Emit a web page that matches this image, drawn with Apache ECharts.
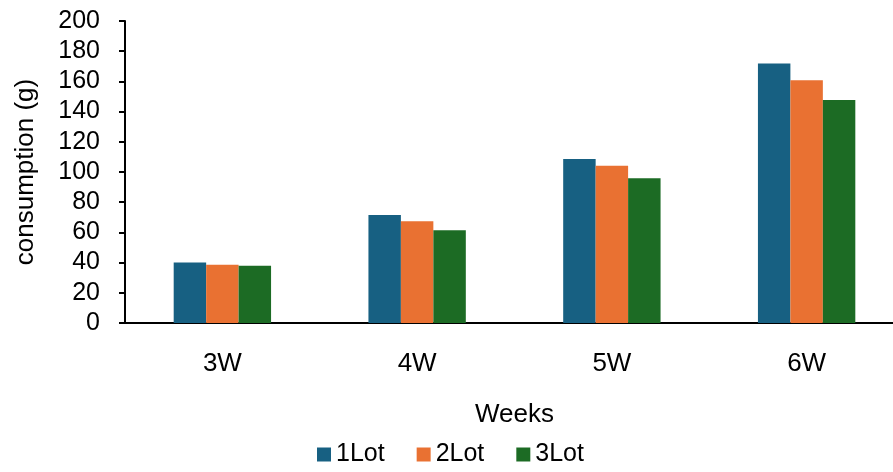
<!DOCTYPE html>
<html>
<head>
<meta charset="utf-8">
<script src="https://cdn.jsdelivr.net/npm/echarts@6/dist/echarts.min.js"></script>
<style>
  html, body { margin: 0; padding: 0; background: #fff; overflow: hidden; }
  #chart { width: 904px; height: 472px; }
</style>
</head>
<body>
<div id="chart"></div>
<script>
const weeks = ["3W", "4W", "5W", "6W"];
const lot1 = [40, 71.6, 108.6, 171.8];
const lot2 = [38.5, 67.4, 104.2, 160.8];
const lot3 = [37.9, 61.5, 95.8, 147.6];

// the plot runs a little past the right edge of the window, as in the original
const chart = echarts.init(document.getElementById("chart"));
const font = "Liberation Sans, Arial, sans-serif";

chart.setOption({
  animation: false,
  color: ["#176082", "#e97132", "#1c6b24"],
  textStyle: { fontFamily: font, color: "#000" },
  grid: { left: 125, right: 0, top: 21, bottom: 149, containLabel: false },
  legend: {
    bottom: 0,
    left: 312,
    itemWidth: 14,
    itemHeight: 14,
    itemGap: 32,
    icon: "rect",
    textStyle: { fontSize: 25, fontFamily: font, color: "#000" },
  },
  xAxis: {
    type: "category",
    data: weeks,
    name: "Weeks",
    nameLocation: "middle",
    nameGap: 79,
    nameTextStyle: { fontSize: 26, color: "#000" },
    axisLine: { lineStyle: { color: "#000", width: 2 } },
    axisTick: { show: false },
    axisLabel: { fontSize: 26, color: "#000", margin: 28 },
  },
  yAxis: {
    type: "value",
    min: 0,
    max: 200,
    interval: 20,
    name: "consumption (g)",
    nameLocation: "middle",
    nameGap: 86,
    nameRotate: 90,
    nameTextStyle: { fontSize: 26, color: "#000" },
    axisLine: { show: true, lineStyle: { color: "#000", width: 2 } },
    axisTick: { show: true, length: 6, lineStyle: { color: "#000", width: 2 } },
    axisLabel: { fontSize: 25, color: "#000", margin: 25 },
    splitLine: { show: false },
  },
  series: [
    { name: "1Lot", type: "bar", data: lot1, barGap: "0%", barCategoryGap: "50%" },
    { name: "2Lot", type: "bar", data: lot2, barGap: "0%", barCategoryGap: "50%" },
    { name: "3Lot", type: "bar", data: lot3, barGap: "0%", barCategoryGap: "50%" },
  ],
});
</script>
</body>
</html>
